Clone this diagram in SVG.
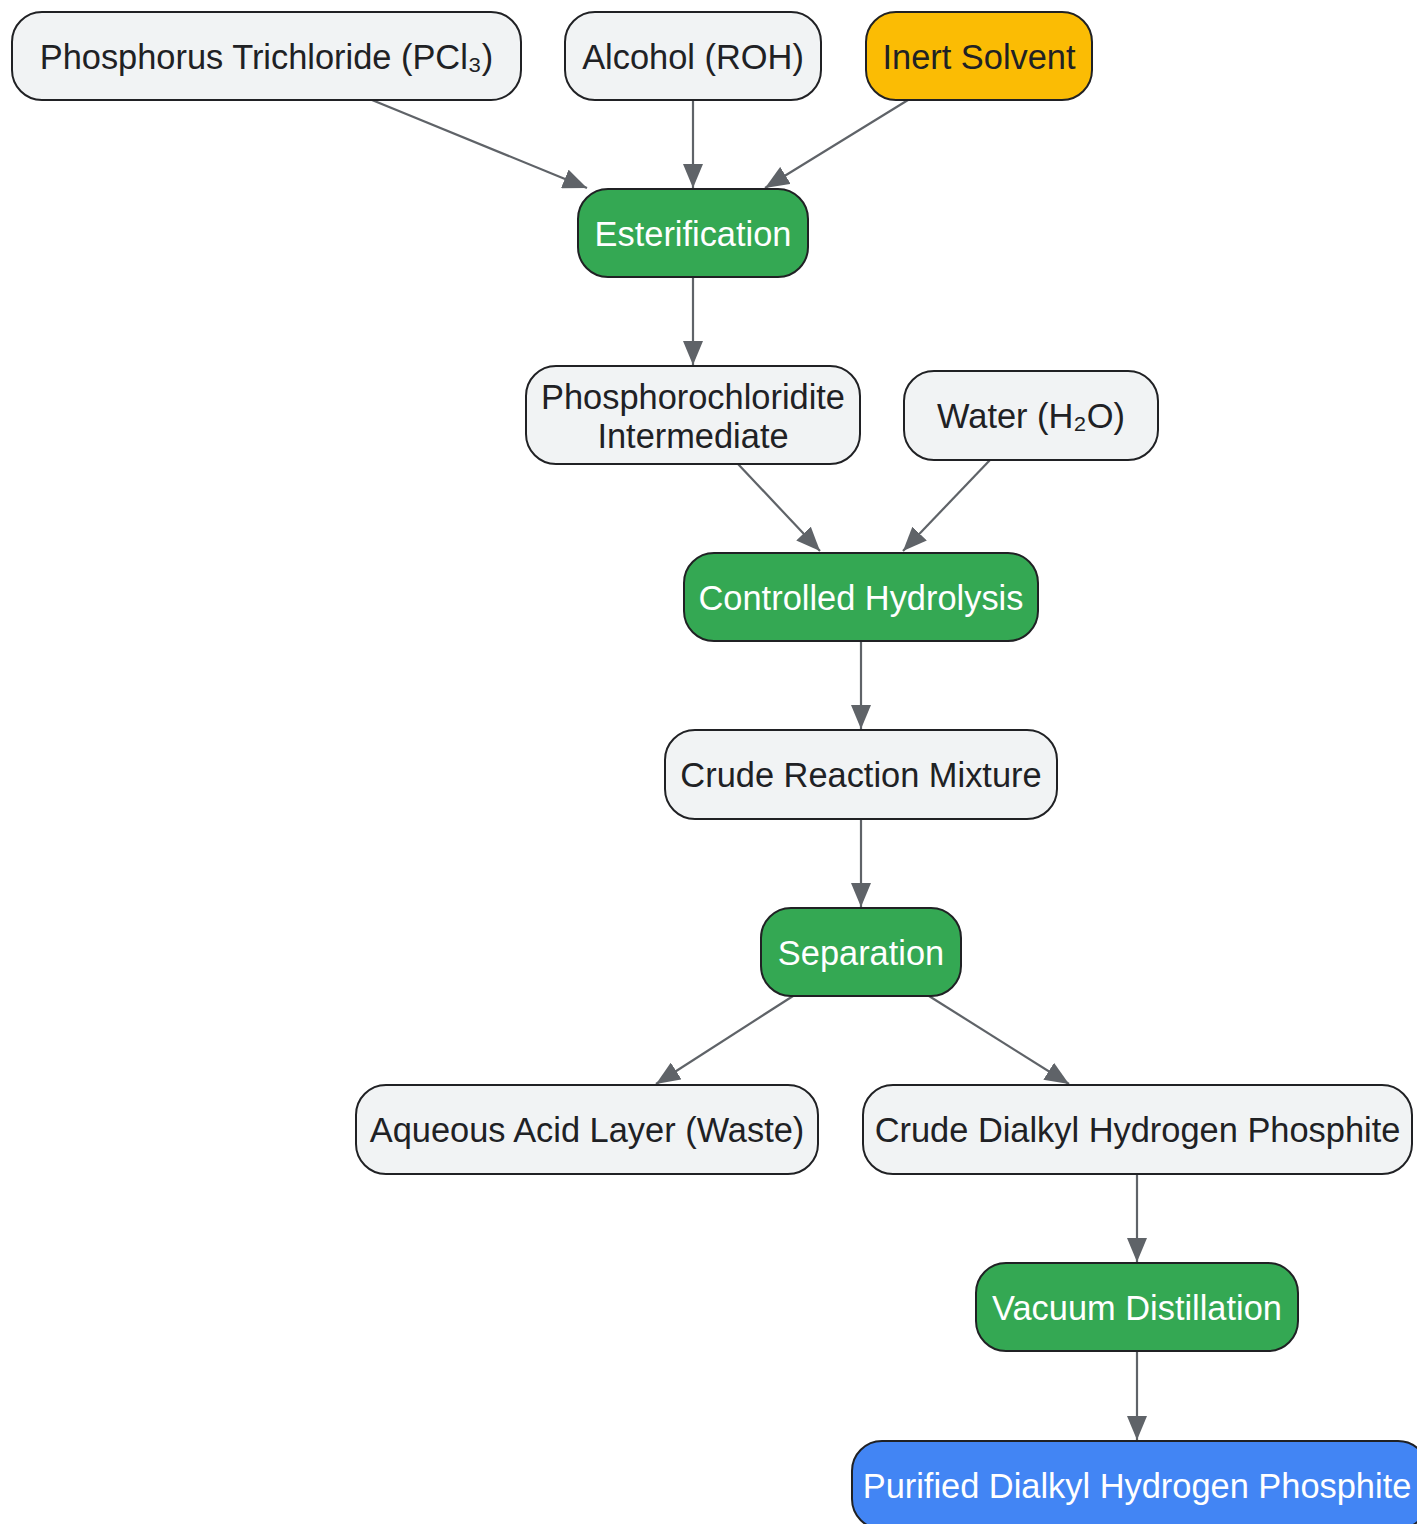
<svg xmlns="http://www.w3.org/2000/svg" width="1417" height="1524" viewBox="0 0 1417 1524">
<style>
.n rect{fill:#F1F3F4;stroke:#202124;stroke-width:2}
.g rect{fill:#34A853}
.y rect{fill:#FBBC04}
.b rect{fill:#4285F4}
text{font-family:"Liberation Sans",Arial,sans-serif;font-size:34.4px;fill:#202124;text-anchor:middle;dominant-baseline:central}
.g text,.b text{fill:#FFFFFF}
.e line{stroke:#5F6368;stroke-width:2.2;fill:none}
</style>
<defs>
<marker id="ah" markerUnits="userSpaceOnUse" viewBox="0 0 24 20" refX="24" refY="10" markerWidth="24" markerHeight="20" orient="auto">
<path d="M0,0 L24,10 L0,20 Z" fill="#5F6368"/>
</marker>
</defs>
<g id="edges" class="e">
<line x1="372" y1="100" x2="587" y2="188" marker-end="url(#ah)"/>
<line x1="693" y1="100" x2="693" y2="188" marker-end="url(#ah)"/>
<line x1="908" y1="100" x2="765" y2="188" marker-end="url(#ah)"/>
<line x1="693" y1="277" x2="693" y2="365" marker-end="url(#ah)"/>
<line x1="738" y1="464" x2="820" y2="551" marker-end="url(#ah)"/>
<line x1="990" y1="460" x2="903" y2="551" marker-end="url(#ah)"/>
<line x1="861" y1="641" x2="861" y2="729" marker-end="url(#ah)"/>
<line x1="861" y1="819" x2="861" y2="907" marker-end="url(#ah)"/>
<line x1="793" y1="996" x2="656" y2="1084" marker-end="url(#ah)"/>
<line x1="929" y1="996" x2="1069" y2="1084" marker-end="url(#ah)"/>
<line x1="1137" y1="1174" x2="1137" y2="1262" marker-end="url(#ah)"/>
<line x1="1137" y1="1351" x2="1137" y2="1440" marker-end="url(#ah)"/>
</g>
<g id="pcl3" class="n"><rect x="12" y="12" width="509" height="88" rx="30"/><text x="266.5" y="57">Phosphorus Trichloride (PCl₃)</text></g>
<g id="alcohol" class="n"><rect x="565" y="12" width="256" height="88" rx="30"/><text x="693" y="57">Alcohol (ROH)</text></g>
<g id="solvent" class="n y"><rect x="866" y="12" width="226" height="88" rx="30"/><text x="979" y="57">Inert Solvent</text></g>
<g id="esterification" class="n g"><rect x="578" y="189" width="230" height="88" rx="30"/><text x="693" y="234">Esterification</text></g>
<g id="intermediate" class="n"><rect x="526" y="366" width="334" height="98" rx="30"/><text x="693" y="397">Phosphorochloridite</text><text x="693" y="436">Intermediate</text></g>
<g id="water" class="n"><rect x="904" y="371" width="254" height="89" rx="30"/><text x="1031" y="416">Water (H₂O)</text></g>
<g id="hydrolysis" class="n g"><rect x="684" y="553" width="354" height="88" rx="30"/><text x="861" y="598">Controlled Hydrolysis</text></g>
<g id="crudemix" class="n"><rect x="665" y="730" width="392" height="89" rx="30"/><text x="861" y="775">Crude Reaction Mixture</text></g>
<g id="separation" class="n g"><rect x="761" y="908" width="200" height="88" rx="30"/><text x="861" y="953">Separation</text></g>
<g id="aqueous" class="n"><rect x="356" y="1085" width="462" height="89" rx="30"/><text x="587" y="1130">Aqueous Acid Layer (Waste)</text></g>
<g id="crudedhp" class="n"><rect x="863" y="1085" width="549" height="89" rx="30"/><text x="1137.5" y="1130">Crude Dialkyl Hydrogen Phosphite</text></g>
<g id="distillation" class="n g"><rect x="976" y="1263" width="322" height="88" rx="30"/><text x="1137" y="1308">Vacuum Distillation</text></g>
<g id="purified" class="n b"><rect x="852" y="1441" width="576" height="88" rx="30"/><text x="1137" y="1486">Purified Dialkyl Hydrogen Phosphite</text></g>
</svg>
